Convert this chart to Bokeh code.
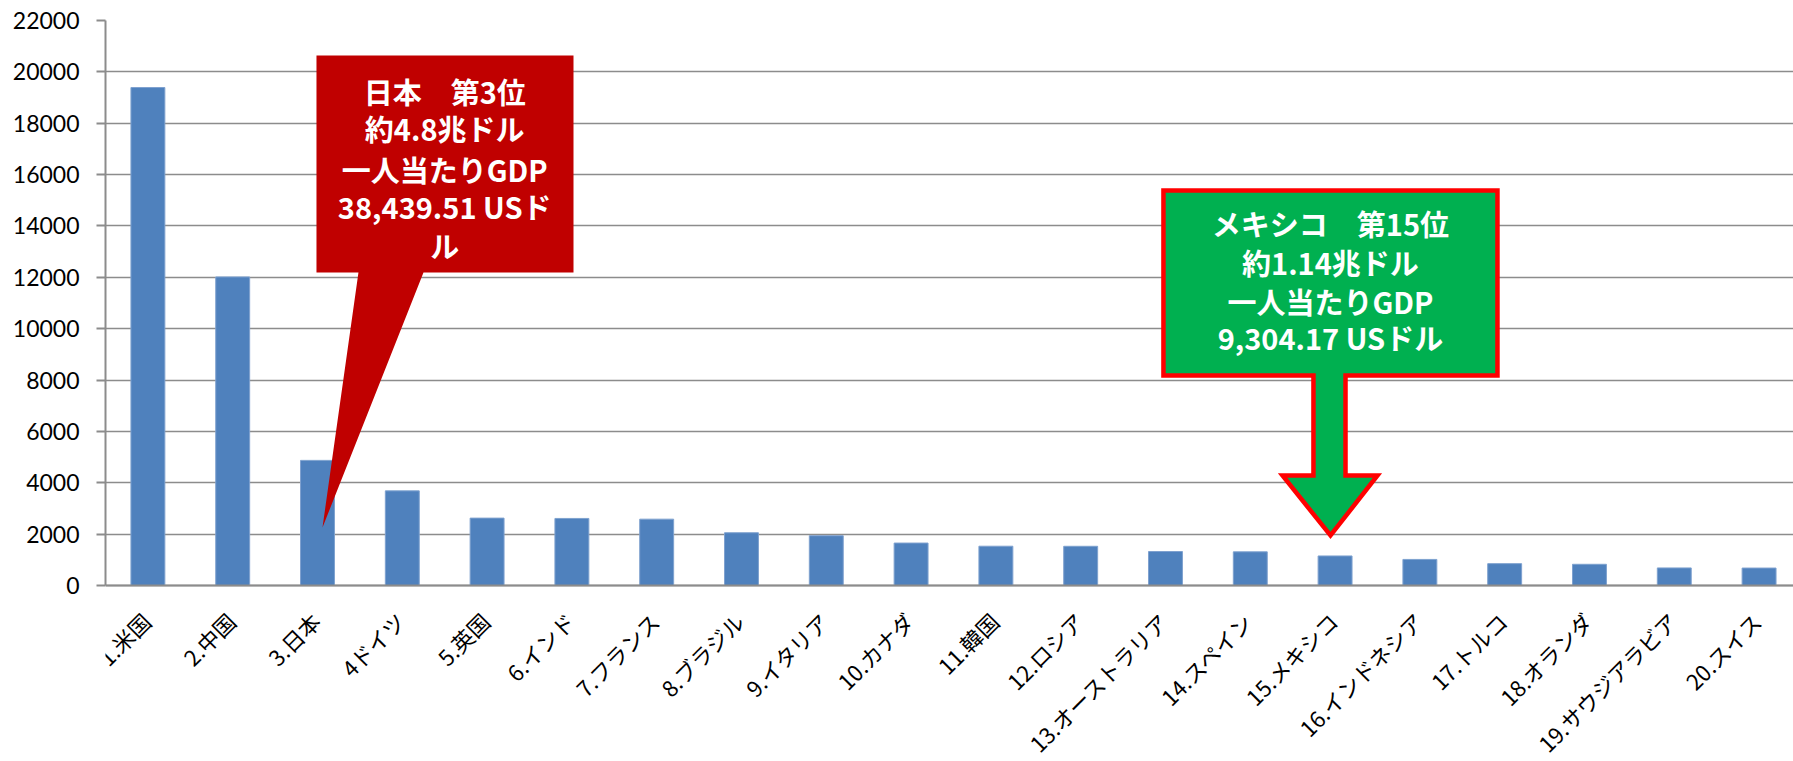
import math
from bokeh.plotting import figure
from bokeh.models import Range1d, FixedTicker, ColumnDataSource, Span
from bokeh.core.properties import value
from bokeh.embed import file_html
from bokeh.resources import INLINE

# ---- data -------------------------------------------------------------
countries = ["1.米国", "2.中国", "3.日本", "4ドイツ", "5.英国", "6.インド",
             "7.フランス", "8.ブラジル", "9.イタリア", "10.カナダ", "11.韓国",
             "12.ロシア", "13.オーストラリア", "14.スペイン", "15.メキシコ",
             "16.インドネシア", "17.トルコ", "18.オランダ", "19.サウジアラビア",
             "20.スイス"]
gdp = [19390, 12015, 4872, 3685, 2624, 2611, 2583, 2054, 1938, 1653, 1530,
       1527, 1323, 1311, 1150, 1015, 851, 826, 684, 679]
y_ticks = [0, 2000, 4000, 6000, 8000, 10000, 12000, 14000, 16000, 18000, 20000, 22000]

japan_lines = ["日本　第3位", "約4.8兆ドル", "一人当たりGDP", "38,439.51 USド", "ル"]
mexico_lines = ["メキシコ　第15位", "約1.14兆ドル", "一人当たりGDP", "9,304.17 USドル"]

# ---- layout ------------------------------------------------------------
W, H = 1793, 761
TOP, LEFT = 20, 105
PLOT_H = 565                      # pixels from 0 to 22000
y_max = 22000
# frame reaches the canvas bottom so the rotated category labels can be
# drawn below the value 0 line
y_min = -y_max * (H - TOP - PLOT_H) / PLOT_H

idx = list(range(1, len(countries) + 1))
src = ColumnDataSource(dict(x=idx, top=gdp, name=countries, base=[0] * len(idx)))

p = figure(width=W, height=H, output_backend="svg", toolbar_location=None,
           x_range=Range1d(0.5, 20.406), y_range=Range1d(y_min, y_max),
           min_border_left=LEFT, min_border_right=0, min_border_top=TOP,
           min_border_bottom=0)
p.outline_line_color = None
p.background_fill_color = "white"
p.xaxis.visible = False
p.xgrid.grid_line_color = None

gray = "#8C8C8C"
p.ygrid.ticker = FixedTicker(ticks=y_ticks)
p.ygrid.grid_line_color = gray
p.ygrid.grid_line_width = 1.5

p.vbar(x="x", top="top", width=0.4, source=src, fill_color="#4F81BD",
       line_color="#7EA1CF", line_width=1)

# baseline (category axis line)
p.add_layout(Span(location=0, dimension="width", line_color=gray, line_width=2))

# value axis
p.yaxis.ticker = FixedTicker(ticks=y_ticks)
p.yaxis.bounds = (0, y_max)
p.yaxis.axis_line_color = gray
p.yaxis.axis_line_width = 2
p.yaxis.major_tick_line_color = gray
p.yaxis.major_tick_line_width = 2
p.yaxis.major_tick_in = 0
p.yaxis.major_tick_out = 9
p.yaxis.minor_tick_line_color = None
p.yaxis.major_label_standoff = 17
p.yaxis.major_label_text_font = "Lato"
p.yaxis.major_label_text_font_size = "23px"
p.yaxis.major_label_text_color = "#000000"

# category labels, rotated 45 degrees, ending under each bar
p.text(x="x", y="base", text="name", source=src, angle=math.pi / 4,
       text_align="right", text_baseline="middle", x_offset=-2, y_offset=31,
       text_font=value("Noto Sans CJK JP"), text_font_size="22px",
       text_color="#000000")

# ---- callouts (data coordinates) --------------------------------------
red_x = [2.988, 6.019, 6.019, 4.250, 3.059, 3.483, 2.988]
red_y = [20637, 20637, 12188, 12188, 2258, 12188, 12188]
p.patch(red_x, red_y, fill_color="#C00000", line_color=None)

green_x = [12.976, 16.915, 16.915, 15.123, 15.123, 15.500, 14.946, 14.380,
           14.745, 14.745, 12.976]
green_y = [15381, 15381, 8177, 8177, 4283, 4283, 1947, 4283, 4283, 8177, 8177]
p.patch(green_x, green_y, fill_color="#00B050", line_color="#FF0000",
        line_width=4.5, line_join="miter")

japan_y = [19274, 17795, 16237, 14796, 13239]
p.text(x=[4.50] * len(japan_lines), y=japan_y, text=japan_lines,
       text_font=value("Noto Sans CJK JP"), text_font_style="bold",
       text_font_size="29px", text_color="white", text_align="center",
       text_baseline="middle")

mexico_y = [14096, 12577, 11097, 9657]
p.text(x=[14.945] * len(mexico_lines), y=mexico_y, text=mexico_lines,
       text_font=value("Noto Sans CJK JP"), text_font_style="bold",
       text_font_size="29px", text_color="white", text_align="center",
       text_baseline="middle")

open("out.html", "w").write(file_html(p, INLINE))
